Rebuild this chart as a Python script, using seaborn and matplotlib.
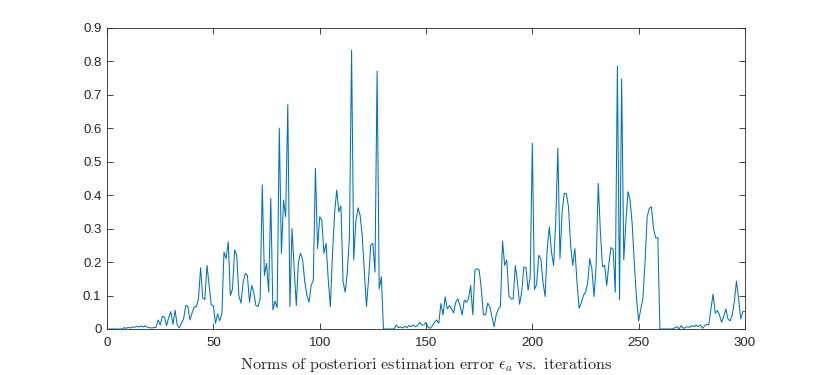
import numpy as np
import pandas as pd
import seaborn as sns
from matplotlib import pyplot as plt

# norm of the a-posteriori estimation error, one value per iteration (1..300)
error_norm = [
    0, 0, 0, 0, 0, 0, 0, 0.004, 0.002, 0.005,
    0.003, 0.006, 0.005, 0.008, 0.006, 0.009, 0.006, 0.010, 0.005, 0.004,
    0.003, 0.004, 0.005, 0.027, 0.012, 0.038, 0.035, 0.010, 0.035, 0.052,
    0.014, 0.056, 0.012, 0.003, 0.017, 0.030, 0.070, 0.067, 0.027, 0.048,
    0.066, 0.067, 0.090, 0.183, 0.093, 0.088, 0.190, 0.130, 0.072, 0.070,
    0.017, 0.045, 0.025, 0.045, 0.230, 0.210, 0.260, 0.100, 0.120, 0.236,
    0.220, 0.100, 0.077, 0.140, 0.166, 0.160, 0.080, 0.130, 0.110, 0.070,
    0.067, 0.090, 0.430, 0.160, 0.196, 0.110, 0.390, 0.057, 0.083, 0.064,
    0.600, 0.226, 0.385, 0.335, 0.670, 0.067, 0.300, 0.180, 0.070, 0.200,
    0.226, 0.206, 0.140, 0.100, 0.080, 0.130, 0.146, 0.480, 0.240, 0.335,
    0.325, 0.226, 0.256, 0.150, 0.067, 0.220, 0.345, 0.415, 0.350, 0.368,
    0.140, 0.110, 0.170, 0.276, 0.833, 0.206, 0.320, 0.362, 0.340, 0.280,
    0.170, 0.067, 0.150, 0.250, 0.256, 0.170, 0.770, 0.120, 0.156, 0,
    0, 0, 0, 0, 0, 0.012, 0.004, 0.006, 0.003, 0.008,
    0.004, 0.010, 0.007, 0.012, 0.007, 0.010, 0.020, 0.012, 0.012, 0.020,
    0.005, 0.002, 0.010, 0.020, 0.027, 0.017, 0.076, 0.042, 0.096, 0.060,
    0.070, 0.060, 0.048, 0.080, 0.090, 0.070, 0.042, 0.086, 0.080, 0.090,
    0.130, 0.042, 0.176, 0.180, 0.176, 0.120, 0.043, 0.042, 0.077, 0.067,
    0.037, 0.007, 0.042, 0.060, 0.067, 0.263, 0.190, 0.206, 0.097, 0.090,
    0.090, 0.190, 0.140, 0.074, 0.110, 0.185, 0.183, 0.116, 0.155, 0.555,
    0.118, 0.133, 0.220, 0.210, 0.140, 0.097, 0.240, 0.305, 0.230, 0.190,
    0.320, 0.540, 0.210, 0.350, 0.405, 0.405, 0.365, 0.250, 0.190, 0.240,
    0.140, 0.062, 0.077, 0.100, 0.110, 0.136, 0.210, 0.180, 0.097, 0.190,
    0.435, 0.290, 0.186, 0.190, 0.130, 0.195, 0.243, 0.238, 0.110, 0.785,
    0.087, 0.747, 0.206, 0.320, 0.410, 0.385, 0.310, 0.190, 0.090, 0.024,
    0.060, 0.092, 0.200, 0.335, 0.360, 0.365, 0.300, 0.272, 0.273, 0,
    0, 0, 0, 0, 0, 0, 0.004, 0.007, 0, 0.010,
    0.002, 0.004, 0.007, 0.005, 0.010, 0.007, 0.012, 0.007, 0.012, 0.002,
    0.010, 0.014, 0.012, 0.060, 0.104, 0.047, 0.055, 0.042, 0.020, 0.037,
    0.060, 0.030, 0.024, 0.042, 0.082, 0.143, 0.090, 0.030, 0.052, 0.052,
]
iterations = list(range(1, len(error_norm) + 1))

x_ticks = [0, 50, 100, 150, 200, 250, 300]
y_ticks = [0, 0.1, 0.2, 0.3, 0.4, 0.5, 0.6, 0.7, 0.8, 0.9]
y_labels = ['0', '0.1', '0.2', '0.3', '0.4', '0.5', '0.6', '0.7', '0.8', '0.9']
xlabel = r'$\mathrm{Norms\ of\ posteriori\ estimation\ error}\ \epsilon_a\ \mathrm{vs.\ iterations}$'

df = pd.DataFrame({'iter': iterations, 'norm': error_norm})

sns.set_theme(style="white")
plt.rcParams['font.family'] = ['Liberation Sans', 'DejaVu Sans']
plt.rcParams['mathtext.fontset'] = 'cm'

axis_col = '#262626'
fig = plt.figure(figsize=(8.24, 3.75), dpi=100)
ax = fig.add_axes([0.1299, 0.1227, 0.7742, 0.8035])

sns.lineplot(data=df, x='iter', y='norm', ax=ax, color='#0072BD', linewidth=0.75)

ax.set_xlim(0, 300)
ax.set_ylim(0, 0.9)
ax.set_xticks(x_ticks)
ax.set_xticklabels([str(t) for t in x_ticks])
ax.set_yticks(y_ticks)
ax.set_yticklabels(y_labels)
ax.tick_params(direction='in', length=4.6, width=0.6, color=axis_col,
               labelcolor=axis_col, labelsize=9.5, top=True, right=True,
               bottom=True, left=True, pad=4)
ax.tick_params(axis='x', pad=5.5)
for sp in ax.spines.values():
    sp.set_color(axis_col)
    sp.set_linewidth(0.6)

ax.set_xlabel(xlabel, fontsize=11.7, color=axis_col, labelpad=5)
ax.set_ylabel('')

fig.savefig('out.png', dpi=100)
